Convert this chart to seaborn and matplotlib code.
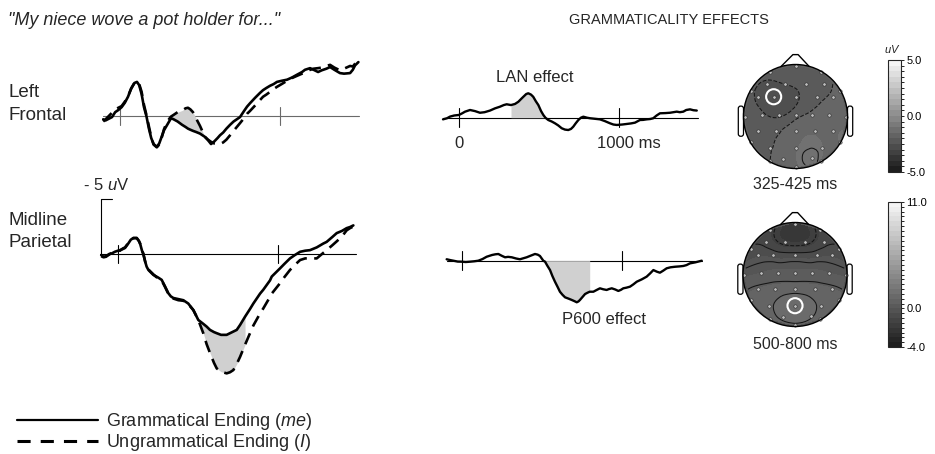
import numpy as np
import pandas as pd
import matplotlib
matplotlib.use("Agg")
import matplotlib.pyplot as plt
import matplotlib.tri as mtri
from matplotlib.cm import ScalarMappable
from matplotlib.colors import LinearSegmentedColormap, BoundaryNorm, Normalize
from matplotlib.patches import Circle, FancyBboxPatch
from matplotlib.lines import Line2D
import seaborn as sns

# ---------------------------------------------------------------- data
GRAM = "Grammatical Ending ($\\mathit{me}$)"
UNGRAM = "Ungrammatical Ending ($\\mathit{I}$)"

# Left frontal site: grand-average ERPs (uV, negative plotted up)
LF_MS = [-105, -90, -70, -50, -30, -10, 10, 30, 50, 70, 90, 106, 120, 135, 150,
         165, 180, 195, 210, 230, 245, 260, 275, 295, 319, 335, 360, 388, 410, 425,
         440, 456, 475, 500, 531, 550, 569, 590, 610, 625, 645, 665, 688, 710, 730,
         750, 775, 794, 812, 844, 875, 894, 915, 938, 960, 981, 1010, 1044, 1075, 1106,
         1138, 1156, 1188, 1210, 1238, 1260, 1290, 1313, 1340, 1375, 1400, 1438, 1455, 1469, 1490]
LF_GRAM = [0.3, 0.4, 0.25, 0.1, -0.35, -0.55, -0.8, -1.2, -1.75, -2.5, -3.0, -3.1, -2.8, -2.0, -0.8,
           0.0, 1.1, 2.0, 2.55, 2.8, 2.5, 1.9, 1.3, 0.8, 0.2, 0.3, 0.5, 0.8, 1.0, 1.15,
           1.25, 1.35, 1.45, 1.6, 1.9, 2.2, 2.55, 2.3, 2.0, 1.75, 1.5, 1.15, 0.8, 0.5, 0.3,
           0.1, -0.45, -0.85, -1.15, -1.65, -2.1, -2.35, -2.55, -2.75, -2.9, -3.1, -3.2, -3.3, -3.5, -3.75,
           -4.0, -4.2, -4.35, -4.2, -4.0, -4.15, -4.3, -4.45, -4.2, -3.9, -3.85, -3.9, -4.2, -4.6, -4.9]
LF_UNGRAM = [0.5, 0.3, 0.0, -0.3, -0.6, -0.75, -0.9, -1.3, -1.8, -2.5, -3.0, -3.15, -2.9, -2.2, -1.0,
             -0.1, 0.9, 1.9, 2.6, 2.85, 2.6, 2.0, 1.2, 0.5, 0.05, -0.1, -0.35, -0.5, -0.7, -0.75,
             -0.6, -0.35, 0.2, 0.9, 1.9, 2.15, 2.35, 2.5, 2.55, 2.55, 2.4, 2.15, 1.75, 1.35, 1.0,
             0.65, 0.2, -0.2, -0.45, -0.95, -1.45, -1.75, -1.95, -2.2, -2.45, -2.65, -2.9, -3.2, -3.45, -3.65,
             -3.85, -3.95, -4.2, -4.3, -4.35, -4.4, -4.55, -4.65, -4.4, -4.15, -4.3, -4.55, -4.5, -4.75, -4.95]
LF_SHADE_MS = (319, 531)

# Midline parietal site
MP_MS = [-105, -90, -75, -55, -39, -20, 0, 12, 30, 44, 64, 80, 96, 117, 130,
         138, 150, 158, 170, 179, 190, 200, 221, 240, 252, 273, 294, 314, 330, 346,
         377, 408, 439, 471, 502, 533, 554, 575, 600, 617, 644, 679, 700, 721, 742,
         763, 794, 825, 846, 888, 908, 950, 961, 1013, 1040, 1075, 1105, 1138, 1170, 1200,
         1242, 1283, 1304, 1340, 1367, 1400, 1429, 1450, 1471]
MP_GRAM = [0.1, 0.25, 0.2, 0.0, -0.05, -0.2, -0.3, -0.35, -0.45, -0.55, -0.95, -1.3, -1.45, -1.45, -1.2,
           -0.95, -0.3, -0.05, 0.7, 1.15, 1.45, 1.6, 1.9, 2.05, 2.15, 2.35, 2.95, 3.55, 3.85, 4.0,
           4.1, 4.2, 4.5, 5.1, 6.0, 6.35, 6.6, 6.9, 7.1, 7.2, 7.35, 7.35, 7.2, 7.05, 6.9,
           6.45, 5.7, 5.0, 4.5, 3.6, 3.25, 2.4, 2.05, 1.3, 0.9, 0.4, 0.1, -0.2, -0.3, -0.35,
           -0.6, -0.95, -1.1, -1.55, -1.9, -2.1, -2.35, -2.45, -2.6]
MP_UNGRAM = [0.2, 0.3, 0.25, 0.05, -0.1, -0.25, -0.35, -0.3, -0.5, -0.6, -1.0, -1.3, -1.45, -1.45, -1.2,
             -0.95, -0.3, 0.0, 0.7, 1.15, 1.4, 1.55, 1.85, 2.1, 2.2, 2.4, 3.0, 3.6, 3.9, 4.05,
             4.2, 4.25, 4.55, 5.1, 6.0, 7.2, 8.2, 9.0, 9.9, 10.4, 10.7, 10.85, 10.75, 10.55, 10.0,
             9.35, 8.25, 7.2, 6.5, 5.4, 4.95, 3.9, 3.6, 2.65, 2.1, 1.45, 1.0, 0.55, 0.4, 0.4,
             0.4, -0.1, -0.35, -0.8, -1.15, -1.6, -2.15, -2.35, -2.5]
MP_SHADE_MS = (502, 794)

# Difference waves (ungrammatical minus grammatical)
LAN_MS = [-100, -75, -56, -30, 0, 20, 38, 69, 100, 131, 160, 194, 225, 256, 280,
          298, 325, 350, 371, 388, 402, 420, 433, 450, 464, 480, 496, 513, 527, 540,
          558, 580, 600, 620, 642, 662, 683, 700, 714, 730, 746, 762, 777, 800, 819,
          850, 881, 910, 944, 965, 986, 1020, 1048, 1075, 1100, 1131, 1150, 1173, 1195, 1214,
          1235, 1256, 1290, 1319, 1340, 1361, 1380, 1402, 1420, 1444, 1465, 1486]
LAN_DIFF = [0.15, 0.05, -0.1, -0.2, -0.25, -0.4, -0.55, -0.7, -0.6, -0.45, -0.5, -0.65, -0.85, -1.0, -1.15,
            -1.22, -1.15, -1.25, -1.45, -1.7, -1.9, -2.15, -2.22, -2.1, -1.9, -1.5, -1.15, -0.6, -0.25, 0.0,
            0.21, 0.35, 0.51, 0.7, 0.96, 1.08, 1.12, 1.02, 0.82, 0.5, 0.21, 0.0, -0.09, 0.0, 0.05,
            0.1, 0.15, 0.3, 0.51, 0.62, 0.66, 0.62, 0.57, 0.52, 0.45, 0.21, 0.2, 0.15, 0.12, 0.05,
            -0.2, -0.4, -0.42, -0.45, -0.5, -0.55, -0.5, -0.55, -0.7, -0.76, -0.68, -0.65]
LAN_SHADE_MS = (325, 540)

P600_MS = [-94, -70, -52, -25, 0, 25, 52, 80, 104, 130, 156, 190, 210, 229, 250,
           271, 290, 313, 340, 364, 385, 406, 430, 458, 475, 489, 510, 521, 535, 552,
           567, 583, 600, 614, 630, 646, 668, 688, 705, 719, 730, 739, 755, 771, 788,
           800, 823, 845, 864, 885, 906, 920, 938, 960, 979, 995, 1010, 1030, 1052, 1073,
           1094, 1125, 1156, 1178, 1198, 1220, 1239, 1260, 1281, 1305, 1333, 1360, 1385, 1405, 1427,
           1460, 1500]
P600_DIFF = [-0.13, -0.05, 0.0, 0.08, 0.09, 0.12, 0.09, 0.05, 0.0, -0.15, -0.36, -0.52, -0.58, -0.61, -0.45,
             -0.31, -0.35, -0.31, -0.2, -0.13, -0.22, -0.31, -0.45, -0.61, -0.55, -0.43, 0.0, 0.09, 0.45, 0.85,
             1.4, 1.91, 2.4, 2.82, 3.1, 3.33, 3.45, 3.57, 3.68, 3.78, 3.7, 3.57, 3.3, 3.03, 2.9,
             2.82, 2.82, 2.65, 2.51, 2.6, 2.66, 2.58, 2.51, 2.62, 2.75, 2.65, 2.51, 2.45, 2.36, 2.15,
             1.91, 1.7, 1.45, 1.15, 0.85, 1.0, 1.09, 0.9, 0.69, 0.6, 0.55, 0.52, 0.48, 0.4, 0.24,
             0.15, 0.0]
P600_SHADE_MS = (510, 800)

TICK_MS = [0, 1000]
SCALE_UV = -5

# Scalp distributions: electrode layout (head units, nose up) and mean amplitudes
ELEC_X = [0.0, 0.49, 0.85, 0.98, 0.85, 0.49, 0.0, -0.49, -0.85, -0.98, -0.85, -0.49,
          -0.55, -0.2, 0.2, 0.55,
          -0.72, -0.42, 0.0, 0.42, 0.72,
          -0.65, -0.32, 0.0, 0.32, 0.65,
          -0.72, -0.38, 0.0, 0.38, 0.72,
          -0.5, 0.0, 0.5,
          0.31, -0.24]
ELEC_Y = [0.98, 0.85, 0.49, 0.0, -0.49, -0.85, -0.98, -0.85, -0.49, 0.0, 0.49, 0.85,
          0.62, 0.62, 0.62, 0.62,
          0.38, 0.38, 0.38, 0.38, 0.38,
          0.03, 0.03, 0.03, 0.03, 0.03,
          -0.27, -0.27, -0.27, -0.27, -0.27,
          -0.6, -0.6, -0.6,
          -0.8, -0.82]
LAN_TOPO = [-2.2, -2.1, -1.9, -1.7, -1.5, -1.5, -1.7, -2.0, -2.1, -2.2, -2.4, -2.3,
            -2.6, -2.5, -2.3, -2.1,
            -2.6, -2.9, -2.6, -2.1, -1.95,
            -2.4, -2.6, -2.2, -1.9, -1.8,
            -2.2, -2.1, -1.7, -1.6, -1.6,
            -2.05, -1.6, -1.45,
            -1.05, -1.8]
P600_TOPO = [-2.2, -1.4, -0.9, -0.1, 0.6, 0.8, 0.9, 0.8, 0.6, -0.1, -0.9, -1.4,
             -1.2, -1.9, -1.9, -1.2,
             -0.6, -0.7, -0.8, -0.7, -0.6,
             0.0, 0.1, 0.1, 0.1, 0.0,
             0.5, 0.65, 0.75, 0.65, 0.5,
             0.9, 1.4, 0.9,
             1.05, 1.1]
LAN_SITE = 17
P600_SITE = 32
LAN_WINDOW = "325-425 ms"
P600_WINDOW = "500-800 ms"

LAN_RANGE = (-5.0, 5.0)
P600_RANGE = (-4.0, 11.0)
LAN_CB_LABELS = [5.0, 0.0, -5.0]
P600_CB_LABELS = [11.0, 0.0, -4.0]
LAN_DASHED, LAN_SOLID = [-2.5, -2.0], [-1.25]
P600_DASHED, P600_SOLID = [-1.7], [-1.0, -0.3, 0.4, 1.0]

# ---------------------------------------------------------------- style
W, H = 935, 454
sns.set_theme(style="white")
plt.rcParams["font.family"] = ["Liberation Sans", "DejaVu Sans"]
plt.rcParams["mathtext.fontset"] = "custom"
plt.rcParams["mathtext.rm"] = "Liberation Sans"
plt.rcParams["mathtext.it"] = "Liberation Sans:italic"

SHADE = "#d0d0d0"
ENDING_DASHES = {GRAM: "", UNGRAM: (4.5, 2.8)}
GRAYS = LinearSegmentedColormap.from_list(
    "topo_grays", ["#1e1e1e", "#8c8c8c", "#f5f5f5"])

fig = plt.figure(figsize=(W / 100, H / 100), dpi=100)

PX_PER_MS = 0.16
PX_PER_UV = 11.0


def px_axes(left, top, width, height):
    return fig.add_axes([left / W, 1 - (top + height) / H, width / W, height / H])


def ftext(x, y, s, **kw):
    kw.setdefault("va", "baseline")
    return fig.text(x / W, 1 - y / H, s, **kw)


def erp_axes(zero_x, base_y, t_lim, v_lim):
    t0, t1 = t_lim
    v0, v1 = v_lim
    ax = px_axes(zero_x + t0 * PX_PER_MS, base_y + v0 * PX_PER_UV,
                 (t1 - t0) * PX_PER_MS, (v1 - v0) * PX_PER_UV)
    ax.set_xlim(t0, t1)
    ax.set_ylim(v1, v0)  # negative up
    ax.set_axis_off()
    return ax


def erp_frame(ax, t_start, t_end, color):
    ax.plot([t_start, t_end], [0, 0], color=color, lw=0.8, zorder=1)
    for t in TICK_MS:
        ax.plot([t, t], [-0.85, 0.85], color=color, lw=0.8, zorder=1)


def condition_frame(ms, gram, ungram):
    n = len(ms)
    return pd.DataFrame({
        "ms": list(ms) * 2,
        "uV": list(gram) + list(ungram),
        "ending": [GRAM] * n + [UNGRAM] * n,
    })


def draw_conditions(ax, ms, gram, ungram, shade):
    df = condition_frame(ms, gram, ungram)
    sns.lineplot(data=df, x="ms", y="uV", style="ending", dashes=ENDING_DASHES,
                 color="black", linewidth=1.9, estimator=None, sort=False,
                 legend=False, ax=ax, zorder=3)
    t = np.asarray(ms)
    ax.fill_between(t, gram, ungram, where=(t >= shade[0]) & (t <= shade[1]),
                    color=SHADE, lw=0, zorder=2)
    ax.set_axis_off()


def draw_difference(ax, ms, diff, shade):
    sns.lineplot(x=ms, y=diff, color="black", linewidth=1.7, estimator=None,
                 sort=False, ax=ax, zorder=3)
    t = np.asarray(ms)
    ax.fill_between(t, diff, 0, where=(t >= shade[0]) & (t <= shade[1]),
                    color=SHADE, lw=0, zorder=2)
    ax.set_axis_off()


# ---------------------------------------------------------------- left column
ax_lf = erp_axes(120, 116, (-140, 1530), (-6.5, 3.5))
erp_frame(ax_lf, -106, 1494, "#6a6a6a")
draw_conditions(ax_lf, LF_MS, LF_GRAM, LF_UNGRAM, LF_SHADE_MS)

ax_mp = erp_axes(118, 254, (-140, 1530), (-6.5, 11.5))
erp_frame(ax_mp, -112, 1487, "black")
draw_conditions(ax_mp, MP_MS, MP_GRAM, MP_UNGRAM, MP_SHADE_MS)
ax_mp.plot([-37, -105, -105], [SCALE_UV, SCALE_UV, 0], color="black", lw=0.8)

ftext(8, 25, '"My niece wove a pot holder for..."', style="italic", fontsize=13)
ftext(8, 97, "Left", fontsize=13.5)
ftext(8, 120, "Frontal", fontsize=13.5)
ftext(8, 225, "Midline", fontsize=13.5)
ftext(8, 247, "Parietal", fontsize=13.5)
ftext(83, 190, "- 5 $\\mathit{u}$V", fontsize=12)

fig.legend(
    handles=[Line2D([], [], color="black", lw=1.6),
             Line2D([], [], color="black", lw=2.2, dashes=(4.3, 3.3))],
    labels=[GRAM, UNGRAM], loc="upper left",
    bbox_to_anchor=(17 / W, 1 - 411 / H), frameon=False, fontsize=13,
    handlelength=4.5, handletextpad=0.45, labelspacing=0.0,
    borderpad=0, borderaxespad=0)

# ---------------------------------------------------------------- right column
ftext(669, 24, "GRAMMATICALITY EFFECTS", fontsize=10.5, ha="center")

ax_lan = erp_axes(459, 117.7, (-130, 1530), (-3.5, 2.5))
erp_frame(ax_lan, -100, 1494, "black")
draw_difference(ax_lan, LAN_MS, LAN_DIFF, LAN_SHADE_MS)
ftext(496, 82, "LAN effect", fontsize=12)
ftext(459, 148, "0", fontsize=12, ha="center")
ftext(597, 148, "1000 ms", fontsize=12)

ax_p6 = erp_axes(461.7, 260.7, (-130, 1530), (-1.5, 4.5))
erp_frame(ax_p6, -92, 1502, "black")
draw_difference(ax_p6, P600_MS, P600_DIFF, P600_SHADE_MS)
ftext(562, 324, "P600 effect", fontsize=12)


def topo(cx, cy, r, values, vrange, dashed, solid, site, window, label_y):
    half = 1.3 * r
    ax = px_axes(cx - half, cy - half, 2 * half, 2 * half)
    ax.set_xlim(-1.3, 1.3)
    ax.set_ylim(-1.3, 1.3)
    ax.set_aspect("equal")
    ax.set_axis_off()
    levels = np.arange(vrange[0], vrange[1] + 0.01, 0.5)
    norm = Normalize(vrange[0], vrange[1])

    tri = mtri.Triangulation(ELEC_X, ELEC_Y)
    tri_f, z_f = mtri.UniformTriRefiner(tri).refine_field(values, subdiv=3)

    scalp = Circle((0, 0), 1.0, facecolor=GRAYS(norm(np.mean(values[:12]))),
                   edgecolor="none", zorder=1)
    ax.add_patch(scalp)
    cf = ax.tricontourf(tri_f, z_f, levels=levels, cmap=GRAYS, norm=norm,
                        extend="both", zorder=2)
    cf.set_clip_path(scalp)
    for lv, ls in ((dashed, "dashed"), (solid, "solid")):
        if lv:
            cs = ax.tricontour(tri_f, z_f, levels=lv, colors="#151515",
                               linewidths=0.75, linestyles=ls, zorder=3)
            cs.set_clip_path(scalp)

    ax.scatter(ELEC_X, ELEC_Y, s=6, c="#bdbdbd", edgecolors="#2a2a2a",
               linewidths=0.4, zorder=4)
    ax.add_patch(Circle((ELEC_X[site], ELEC_Y[site]), 0.145, fill=False,
                        edgecolor="white", lw=1.5, zorder=5))
    ax.add_patch(Circle((0, 0), 1.0, fill=False, edgecolor="black", lw=1.0, zorder=6))
    ax.plot([-0.28, -0.05, 0.05, 0.26], [0.96, 1.19, 1.19, 0.965], color="black",
            lw=1.0, zorder=6, solid_joinstyle="round")
    for x0 in (-1.1, 1.0):
        ax.add_patch(FancyBboxPatch((x0, -0.38), 0.1, 0.58,
                                    boxstyle="round,pad=0,rounding_size=0.045",
                                    fill=False, edgecolor="black", lw=0.9, zorder=0))
    ftext(cx, label_y, window, fontsize=11.5, ha="center")


def colorbar(top, height, vrange, labels):
    cax = px_axes(888, top, 13, height)
    levels = np.arange(vrange[0], vrange[1] + 0.01, 0.5)
    sm = ScalarMappable(norm=BoundaryNorm(levels, GRAYS.N), cmap=GRAYS)
    cb = fig.colorbar(sm, cax=cax, ticks=levels)
    cb.outline.set_linewidth(0.8)
    cax.set_yticklabels([f"{v:.1f}" if any(abs(v - l) < 1e-6 for l in labels) else ""
                         for v in levels])
    cax.tick_params(axis="y", length=2.5, width=0.6, pad=1.5, labelsize=8,
                    direction="out", right=True, left=False, colors="black")
    return cax


topo(795.5, 116.5, 52, LAN_TOPO, LAN_RANGE, LAN_DASHED, LAN_SOLID,
     LAN_SITE, LAN_WINDOW, 189)
topo(795, 274.5, 52, P600_TOPO, P600_RANGE, P600_DASHED, P600_SOLID,
     P600_SITE, P600_WINDOW, 349)
colorbar(60, 112, LAN_RANGE, LAN_CB_LABELS)
colorbar(202, 145, P600_RANGE, P600_CB_LABELS)
ftext(892, 53, "$\\mathit{uV}$", fontsize=8, ha="center")

fig.savefig("out.png", dpi=100)
